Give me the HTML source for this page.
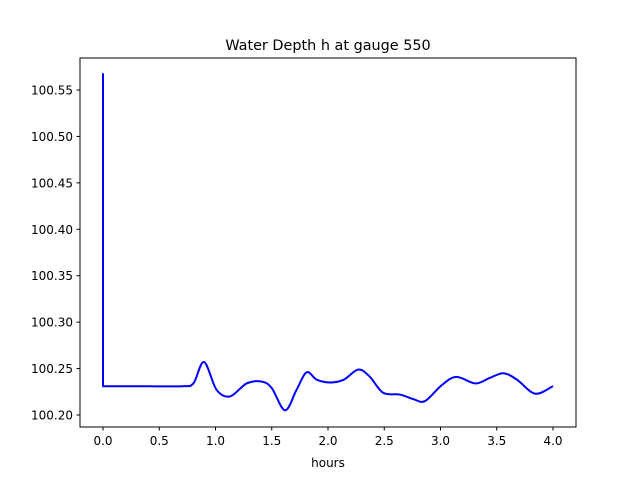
<!DOCTYPE html>
<html><head><meta charset="utf-8"><style>
body{margin:0;background:#fff;font-family:"DejaVu Sans","Liberation Sans",sans-serif}
text{font-family:"DejaVu Sans","Liberation Sans",sans-serif;fill:#000}
</style></head><body>
<svg id="c" width="640" height="480">
<rect width="640" height="480" fill="#fff"/>
<text x="328" y="50" font-size="14.4" text-anchor="middle">Water Depth h at gauge 550</text>
<g id="ticks"></g>
<path id="line" fill="none" stroke="#0000ff" stroke-width="2" stroke-linejoin="round"/>
<rect x="80" y="58" width="496" height="369" fill="none" stroke="#000" stroke-width="1"/>
<text x="328" y="467" font-size="12" text-anchor="middle">hours</text>
</svg>
<script>
const times=[0,0,0.4,0.7,0.803,0.898,1.01,1.129,1.277,1.41,1.50,1.618,1.72,1.81,1.90,2.02,2.14,2.27,2.373,2.49,2.64,2.76,2.862,3.01,3.14,3.31,3.44,3.56,3.68,3.84,4.0];
const depth=[100.568,100.231,100.231,100.231,100.234,100.257,100.227,100.220,100.234,100.236,100.229,100.205,100.227,100.246,100.238,100.235,100.238,100.249,100.241,100.224,100.222,100.217,100.215,100.232,100.241,100.234,100.240,100.245,100.238,100.223,100.231];
const xTicks=[0,0.5,1,1.5,2,2.5,3,3.5,4];
const yTicks=[100.20,100.25,100.30,100.35,100.40,100.45,100.50,100.55];
const X=t=>103+t*112.5, Y=h=>415-(h-100.20)*928.6;
const NS='http://www.w3.org/2000/svg', g=document.getElementById('ticks');
function mk(tag,a){const e=document.createElementNS(NS,tag);for(const k in a)e.setAttribute(k,a[k]);g.appendChild(e);return e;}
xTicks.forEach(t=>{
 const l=mk('line',{x1:X(t),x2:X(t),y1:427,y2:430.5,stroke:'#000'});
 
 
 const tx=mk('text',{x:X(t),y:445,'font-size':12,'text-anchor':'middle'});
 tx.textContent=t.toFixed(1);
 
 
});
yTicks.forEach(h=>{
 const l=mk('line',{x1:76.5,x2:80,y1:Y(h),y2:Y(h),stroke:'#000'});
 
 
 const tx=mk('text',{x:73,y:Y(h)+4.5,'font-size':12,'text-anchor':'end'});
 tx.textContent=h.toFixed(2);
 
 
});
const P=times.map((t,i)=>[X(t),Y(depth[i])]);
let d=`M${P[0][0]},${P[0][1]}L${P[1][0]},${P[1][1]}`;
for(let i=1;i<P.length-1;i++){
 const p0=P[Math.max(1,i-1)],p1=P[i],p2=P[i+1],p3=P[Math.min(P.length-1,i+2)];
 const c1=[p1[0]+(p2[0]-p0[0])/6,p1[1]+(p2[1]-p0[1])/6];
 const c2=[p2[0]-(p3[0]-p1[0])/6,p2[1]-(p3[1]-p1[1])/6];
 d+=`C${c1[0]},${c1[1]} ${c2[0]},${c2[1]} ${p2[0]},${p2[1]}`;
}
document.getElementById('line').setAttribute('d',d);
</script>
</body></html>
